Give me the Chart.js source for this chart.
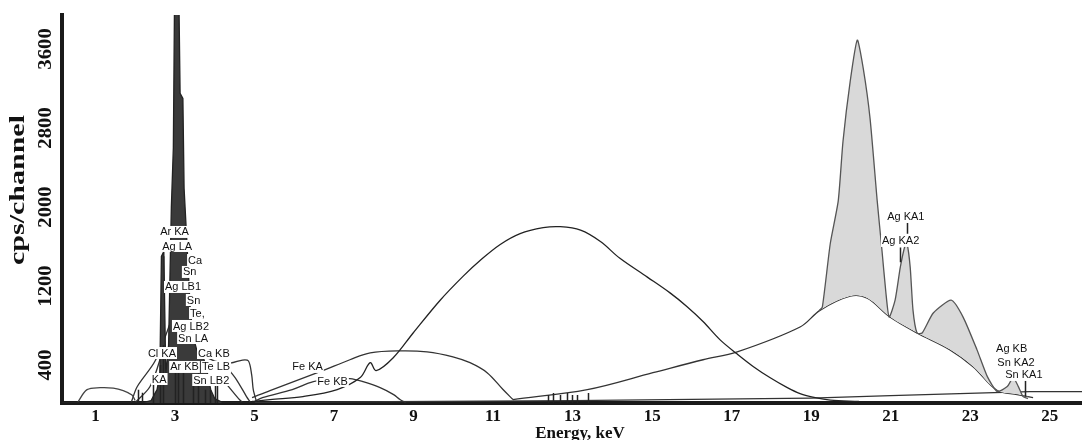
<!DOCTYPE html>
<html>
<head>
<meta charset="utf-8">
<script src="https://cdn.jsdelivr.net/npm/chart.js@4.4.1/dist/chart.umd.min.js"></script>
<style>
  html, body { margin: 0; padding: 0; background: #fff; }
  #wrap { width: 1082px; height: 440px; }
</style>
</head>
<body>
<div id="wrap"><canvas id="c" width="1082" height="440"></canvas></div>
<script>
// ---------- tick labels ----------
const xTicks = [1, 3, 5, 7, 9, 11, 13, 15, 17, 19, 21, 23, 25];
const yTicks = [400, 1200, 2000, 2800, 3600];

// ---------- low-energy spectrum (dark filled) ----------
const lowKeV = [0.16, 2.20, 2.40, 2.55, 2.62, 2.66, 2.72, 2.77, 2.84, 2.91, 2.96, 2.99, 3.10, 3.13, 3.20, 3.23, 3.30, 3.38, 3.45, 3.55, 3.70, 3.80, 3.90, 4.00, 4.20, 5.00];
const lowCps = [20, 20, 40, 150, 300, 1500, 1550, 300, 600, 2000, 2600, 4100, 4100, 3150, 3100, 2190, 1650, 1000, 700, 550, 500, 350, 150, 60, 20, 20];

// ---------- Ag K region of the spectrum (light filled over background) ----------
const agKeV = [19.20, 19.28, 19.48, 19.68, 19.80, 19.98, 20.16, 20.31, 20.48, 20.66, 20.78, 20.88, 20.96, 21.11, 21.24, 21.36, 21.41, 21.49, 21.56, 21.66, 21.79, 22.07, 22.52, 22.82, 23.17, 23.43, 23.68, 23.93, 24.08, 24.21, 24.33, 24.45];
const agCps = [950, 986, 1630, 2062, 2666, 3270, 3690, 3400, 2897, 2062, 1559, 1127, 885, 1056, 1388, 1610, 1630, 1388, 956, 724, 724, 926, 1056, 885, 553, 282, 131, 181, 272, 181, 80, 60];

// ---------- broad hump peaking near 12.5 keV ----------
const humpKeV = [4.94, 5.39, 6.22, 7.08, 7.66, 7.91, 8.06, 8.49, 8.99, 9.67, 10.25, 10.68, 11.18, 11.68, 12.26, 12.69, 13.20, 13.70, 14.19, 14.88, 15.45, 15.88, 16.28, 16.71, 17.14, 17.54, 17.97, 18.40, 18.72, 19.10, 19.48, 20.20];
const humpCps = [30, 50, 80, 151, 272, 423, 342, 473, 724, 1056, 1300, 1460, 1620, 1730, 1790, 1800, 1765, 1650, 1480, 1290, 1130, 990, 840, 654, 510, 385, 270, 170, 110, 70, 45, 30];

// ---------- background under the Ag K peaks ----------
const bkgKeV = [11.50, 13.37, 15.02, 16.28, 17.14, 18.72, 19.23, 19.98, 20.41, 20.98, 21.66, 22.49, 23.07, 23.68, 24.18, 24.58];
const bkgCps = [50, 151, 322, 453, 533, 785, 956, 1097, 1076, 885, 724, 553, 382, 141, 101, 70];

// ---------- Fe KA curve (hump near 9 keV) ----------
const feaKeV = [4.94, 5.39, 6.65, 7.40, 7.91, 8.66, 9.34, 9.99, 10.42, 10.85, 11.25, 11.50];
const feaCps = [70, 141, 332, 453, 523, 543, 533, 483, 423, 322, 151, 50];

// ---------- Fe KB curve ----------
const febKeV = [5.00, 5.20, 5.95, 6.48, 7.00, 7.40, 7.73, 8.16, 8.50, 8.66, 8.80];
const febCps = [30, 70, 151, 231, 262, 262, 231, 171, 100, 50, 20];

// ---------- small curves around the L lines ----------
const lowHumpKeV = [0.56, 0.79, 1.12, 1.45, 1.70, 1.92, 2.00];
const lowHumpCps = [25, 150, 170, 165, 140, 95, 40];
const flankAKeV = [2.00, 2.37, 2.62, 2.70, 2.72];
const flankACps = [20, 180, 450, 623, 1500];
const flankBKeV = [1.90, 2.05, 2.50, 2.88, 2.96];
const flankBCps = [20, 180, 440, 825, 950];
const tailAKeV = [3.70, 4.00, 4.40, 4.70, 4.85, 4.93, 4.97, 5.05];
const tailACps = [500, 440, 420, 450, 440, 300, 150, 30];
const tailBKeV = [4.30, 4.55, 4.80, 4.90];
const tailBCps = [380, 250, 80, 20];
const tailCKeV = [4.25, 4.60, 4.70];
const tailCCps = [230, 60, 20];

// ---------- spectrum continuum at high energy ----------
const baseKeV = [5.0, 13.0, 19.0, 21.0, 23.6, 24.5, 25.81];
const baseCps = [20, 40, 65, 90, 120, 130, 130];

// ---------- KLM marker lines ----------
const markKeV = [2.07, 2.17, 2.45, 2.63, 2.70, 3.00, 3.08, 3.20, 3.46, 3.59, 3.76, 3.88, 4.01, 4.06,
                 12.38, 12.51, 12.69, 12.86, 12.99, 13.12, 13.39,
                 21.24, 21.41, 24.38];
const markLow = [15, 15, 15, 15, 15, 15, 15, 15, 15, 15, 15, 15, 15, 15,
                 15, 15, 15, 15, 15, 15, 15,
                 1440, 1730, 80];
const markHigh = [150, 120, 250, 400, 600, 320, 320, 320, 250, 320, 150, 150, 200, 200,
                  95, 116, 95, 116, 95, 95, 116,
                  1590, 1840, 250];

// ---------- line labels ----------
const lblText = ["Ar KA", "Ag LA", "Ca", "Sn", "Ag LB1", "Sn", "Te,", "Ag LB2", "Sn LA", "Cl KA", "Ca KB", "Ar KB", "Te LB", "KA", "Sn LB2",
                 "Fe KA", "Fe KB", "Ag KA1", "Ag KA2", "Ag KB", "Sn KA2", "Sn KA1"];
const lblKeV = [2.63, 2.68, 3.33, 3.20, 2.75, 3.30, 3.38, 2.95, 3.08, 2.32, 3.58, 2.88, 3.68, 2.42, 3.46,
                5.95, 6.58, 20.91, 20.78, 23.65, 23.68, 23.88];
const lblCps = [1747, 1605, 1463, 1342, 1190, 1058, 926, 795, 673, 521, 521, 380, 380, 258, 248,
                380, 238, 1899, 1656, 572, 430, 299];

function pts(xs, ys) { return xs.map((v, i) => ({ x: v, y: ys[i] })); }

function curve(xs, ys, color, tension) {
  return {
    data: pts(xs, ys), showLine: true, borderColor: color, borderWidth: 1.3,
    pointRadius: 0, fill: false, tension: tension
  };
}

const datasets = [
  Object.assign(curve(lowKeV, lowCps, '#222', 0), { fill: 'origin', backgroundColor: '#3a3a3a' }),
  Object.assign(curve(agKeV, agCps, '#555', 0.2), { fill: { target: 3, above: '#d9d9d9', below: 'rgba(0,0,0,0)' } }),
  curve(humpKeV, humpCps, '#222', 0.35),
  curve(bkgKeV, bkgCps, '#333', 0.35),
  curve(feaKeV, feaCps, '#333', 0.35),
  curve(febKeV, febCps, '#333', 0.35),
  curve(lowHumpKeV, lowHumpCps, '#444', 0.35),
  curve(flankAKeV, flankACps, '#333', 0.3),
  curve(flankBKeV, flankBCps, '#333', 0.3),
  curve(tailAKeV, tailACps, '#333', 0.3),
  curve(tailBKeV, tailBCps, '#333', 0.3),
  curve(tailCKeV, tailCCps, '#333', 0.3),
  curve(baseKeV, baseCps, '#333', 0)
];

const overlay = {
  id: 'overlay',
  afterDatasetsDraw(chart) {
    const { ctx, chartArea: ca, scales: { x, y } } = chart;
    ctx.save();
    ctx.beginPath();
    ctx.rect(ca.left, ca.top, ca.right - ca.left, ca.bottom - ca.top);
    ctx.clip();
    ctx.strokeStyle = '#222';
    ctx.lineWidth = 1.5;
    ctx.beginPath();
    for (let i = 0; i < markKeV.length; i++) {
      const px = Math.round(x.getPixelForValue(markKeV[i])) + 0.5;
      ctx.moveTo(px, y.getPixelForValue(markLow[i]));
      ctx.lineTo(px, y.getPixelForValue(markHigh[i]));
    }
    ctx.stroke();
    ctx.font = '11px "Liberation Sans", Arial, sans-serif';
    ctx.textBaseline = 'middle';
    ctx.textAlign = 'left';
    for (let i = 0; i < lblText.length; i++) {
      const px = x.getPixelForValue(lblKeV[i]);
      const py = y.getPixelForValue(lblCps[i]);
      const w = ctx.measureText(lblText[i]).width;
      ctx.fillStyle = '#fff';
      ctx.fillRect(px - 1, py - 6, w + 2, 12);
      ctx.fillStyle = '#111';
      ctx.fillText(lblText[i], px, py + 0.5);
    }
    ctx.restore();
  },
  afterDraw(chart) {
    const { ctx, scales: { y } } = chart;
    ctx.save();
    ctx.fillStyle = '#111';
    ctx.font = 'bold 18px "Liberation Serif", "Times New Roman", serif';
    ctx.textAlign = 'center';
    ctx.textBaseline = 'middle';
    for (const v of yTicks) {
      const py = y.getPixelForValue(v);
      ctx.save();
      ctx.translate(46, py);
      ctx.rotate(-Math.PI / 2);
      ctx.scale(1.15, 1);
      ctx.fillText(String(v), 0, 0);
      ctx.restore();
    }
    ctx.save();
    ctx.font = 'bold 20px "Liberation Serif", "Times New Roman", serif';
    ctx.translate(19, 190);
    ctx.rotate(-Math.PI / 2);
    ctx.scale(1.5, 1);
    ctx.fillText('cps/channel', 0, 0);
    ctx.restore();
    ctx.font = 'bold 17px "Liberation Serif", "Times New Roman", serif';
    ctx.textBaseline = 'alphabetic';
    ctx.fillText('Energy, keV', 580, 438);
    ctx.restore();
  }
};

new Chart(document.getElementById('c'), {
  type: 'scatter',
  data: { datasets },
  options: {
    responsive: false,
    animation: false,
    devicePixelRatio: 1,
    layout: { padding: { top: 15, left: 0, right: 0, bottom: 0 } },
    plugins: { legend: { display: false }, tooltip: { enabled: false }, title: { display: false } },
    elements: { point: { radius: 0 } },
    scales: {
      x: {
        type: 'linear', position: 'bottom', min: 0.16, max: 25.81,
        grid: { display: false, drawTicks: false },
        border: { display: true, color: '#1a1a1a', width: 4 },
        afterBuildTicks: (s) => { s.ticks = xTicks.map(v => ({ value: v })); },
        afterFit: (s) => { s.height = 37; },
        ticks: {
          color: '#111', padding: 3, maxRotation: 0, autoSkip: false,
          font: { family: '"Liberation Serif", "Times New Roman", serif', size: 17, weight: 'bold' },
          callback: (v) => String(v)
        }
      },
      y: {
        type: 'linear', position: 'left', min: 15, max: 3944,
        grid: { display: false, drawTicks: false },
        border: { display: true, color: '#1a1a1a', width: 4 },
        ticks: { display: false },
        afterFit: (s) => { s.width = 62; }
      }
    }
  },
  plugins: [overlay]
});
</script>
</body>
</html>
